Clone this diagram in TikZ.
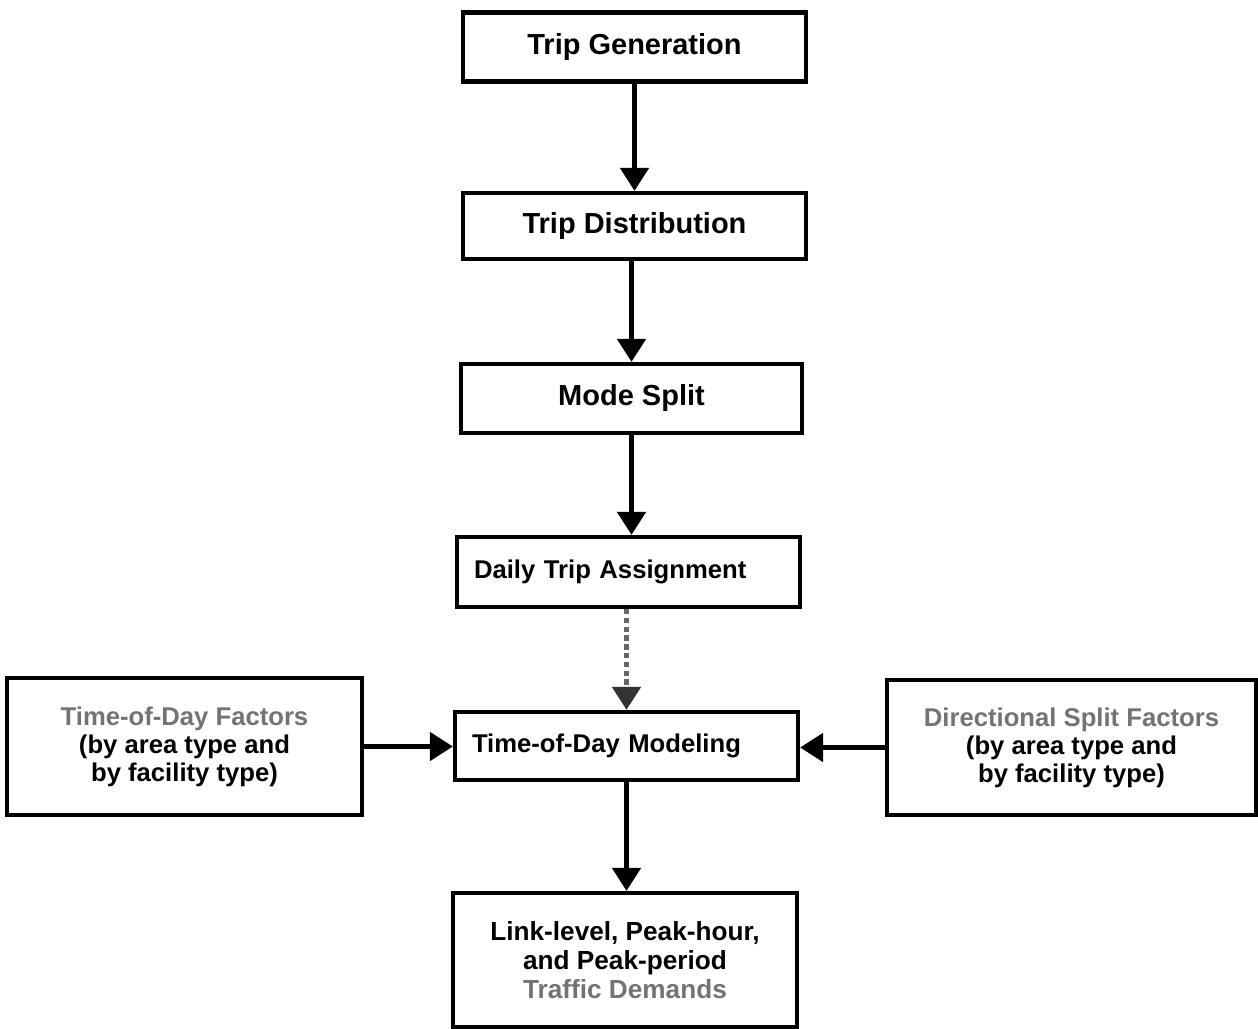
\documentclass[tikz,border=0pt]{standalone}
\usepackage{fontspec}
\setmainfont{Liberation Sans}
\usetikzlibrary{arrows.meta}

\begin{document}
\begin{tikzpicture}[
    stage/.style={draw, line width=2.4pt, minimum width=6.86cm, minimum height=1.38cm,
        font=\bfseries\fontsize{16.5}{18}\selectfont},
    lowstage/.style={stage, text width=6.18cm, inner xsep=0.34cm, align=left,
        font=\bfseries\fontsize{14.6}{16}\selectfont},
    side/.style={draw, line width=2.4pt, align=center,
        font=\bfseries\fontsize{14.6}{16}\selectfont},
    flow/.style={line width=2.8pt, -{Triangle[width=0.56cm,length=0.46cm]}}
]
    \useasboundingbox (0,0) rectangle (25.16,-20.58);
    \node[stage] (gen) at (12.69,-0.94) {Trip Generation};
    \node[stage, minimum height=1.32cm] (dist) at (12.69,-4.52) {Trip Distribution};
    \node[stage, minimum width=6.82cm] (mode) at (12.63,-7.97) {Mode Split};
    \node[lowstage, minimum height=1.40cm] (daily) at (12.57,-11.44) {Daily Trip Assignment};
    \node[lowstage, minimum height=1.36cm] (tod) at (12.53,-14.92) {Time-of-Day Modeling};
    \node[side, minimum width=7.10cm, minimum height=2.74cm] (todf) at (3.69,-14.93)
        {\textcolor{black!55}{Time-of-Day Factors}\\(by area type and\\by facility type)};
    \node[side, minimum width=7.38cm, minimum height=2.70cm] (dsf) at (21.43,-14.95)
        {\textcolor{black!55}{Directional Split Factors}\\(by area type and\\by facility type)};
    \node[side, minimum width=6.88cm, minimum height=2.68cm, font=\bfseries\fontsize{14.9}{16.7}\selectfont] (link) at (12.50,-19.20)
        {Link-level, Peak-hour,\\and Peak-period\\\textcolor{black!55}{Traffic Demands}};
    \draw[flow] (gen.south) -- (gen.south |- dist.north);
    \draw[flow] ([xshift=-0.06cm]dist.south) -- ([xshift=-0.06cm]dist.south |- mode.north);
    \draw[flow] (mode.south) -- (mode.south |- daily.north);
    \draw[flow, black!60, densely dashed, -{Triangle[width=0.56cm,length=0.46cm,black!80]}] ([xshift=-0.04cm]daily.south) -- ([xshift=-0.04cm]daily.south |- tod.north);
    \draw[flow] (tod.south) -- (tod.south |- link.north);
    \draw[flow] (todf.east) -- (todf.east -| tod.west);
    \draw[flow] (dsf.west) -- (dsf.west -| tod.east);
\end{tikzpicture}
\end{document}
